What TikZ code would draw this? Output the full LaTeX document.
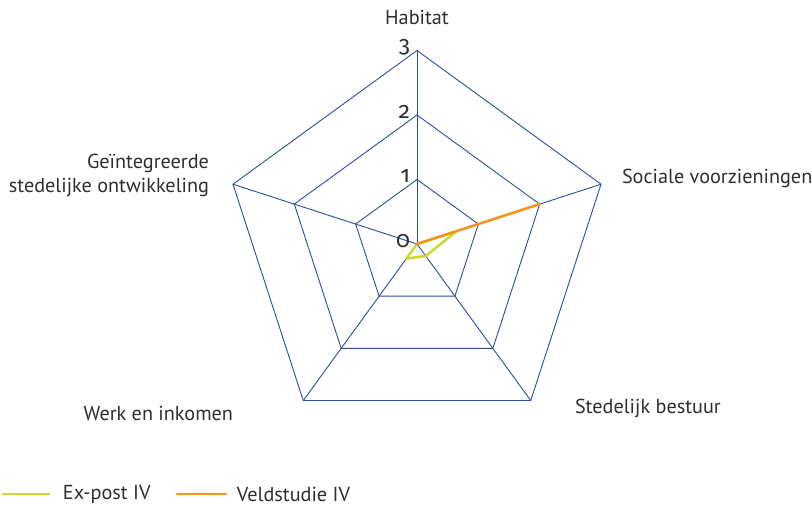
\documentclass[tikz,border=0pt]{standalone}
\usepackage{fontspec}
\setmainfont{PT Sans}
\newfontfamily\oldnums[Numbers=OldStyle]{Fira Sans}
\usetikzlibrary{calc,positioning}
\definecolor{webblue}{HTML}{2A4D9C}
\definecolor{textgrey}{HTML}{2E2E2E}
\definecolor{expostgreen}{HTML}{C9D93A}
\definecolor{veldorange}{HTML}{F7941D}
\tikzset{
    every picture/.style = {
        x = 1bp,
        y = 1bp
    },
    every node/.style = {
        inner sep = 0pt,
        outer sep = 0pt,
        text = textgrey,
        font = \fontsize{20.3}{24}\selectfont
    },
    web/.style = {
        draw = webblue,
        line width = 0.9bp,
        line join = miter
    },
    expost/.style = {
        draw = expostgreen,
        line width = 2.6bp,
        line join = round
    },
    veld/.style = {
        draw = veldorange,
        line width = 2.6bp,
        line cap = round
    },
    levellabel/.style = {
        anchor = east,
        font = \oldnums\fontsize{23}{26}\selectfont
    }
}

\begin{document}
\begin{tikzpicture}
    \useasboundingbox (-417, -261) rectangle (395, 244);
    % corners of the web, per level and per axis
    \foreach \i/\a in {1/90, 2/18, 3/-54, 4/-126, 5/162} {
        \foreach \k in {0,...,3} {
            \coordinate (v\k\i) at (\a:{\k*64.5});
        }
    }
    \foreach \k in {1,2,3} {
        \draw[web] (v\k1) -- (v\k2) -- (v\k3) -- (v\k4) -- (v\k5) -- cycle;
    }
    \foreach \i in {1,...,5} {
        \draw[web] (v0\i) -- (v3\i);
    }
    % scale
    \foreach \k in {0,...,3} {
        \node[levellabel] (l\k) at ($(v\k1)+(-7,3)$) {\k};
    }
    % axis names
    \node (habitat) at (0, 227) {Habitat};
    \node[anchor = west] (sociaal) at (205, 66) {Sociale voorzieningen};
    \node[anchor = east, align = right] (geint) at (-208, 69) {Geïntegreerde\\stedelijke ontwikkeling};
    \node[anchor = west] (bestuur) at (158, -164) {Stedelijk bestuur};
    \node[anchor = east] (werk) at (-184, -169) {Werk en inkomen};
    % series
    \coordinate (g2) at (18:{0.65*64.5});
    \coordinate (g3) at (-54:{0.23*64.5});
    \coordinate (g4) at (-126:{0.28*64.5});
    \draw[expost] (v01) -- (g2) -- (g3) -- (g4) -- cycle;
    \draw[veld] (v01) -- (v22);
    % legend
    \coordinate (a1) at (-415, -250);
    \coordinate (a2) at (-367, -250);
    \draw[expost] (a1) -- (a2);
    \node[anchor = west] (expost) at (-354, -250) {Ex-post IV};
    \coordinate (b1) at (-240, -250);
    \coordinate (b2) at (-191, -250);
    \draw[veld] (b1) -- (b2);
    \node[anchor = west] (veldstudie) at (-180, -250) {Veldstudie IV};
\end{tikzpicture}
\end{document}
